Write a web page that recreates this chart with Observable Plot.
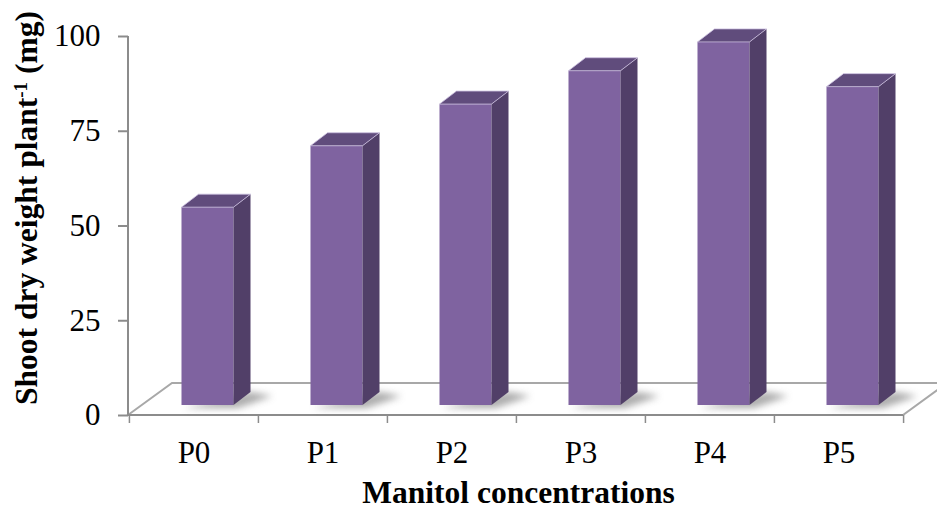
<!DOCTYPE html>
<html>
<head>
<meta charset="utf-8">
<script src="https://cdn.jsdelivr.net/npm/d3@7"></script>
<script src="https://cdn.jsdelivr.net/npm/@observablehq/plot@0.6"></script>
<style>
  html, body { margin: 0; padding: 0; background: #fff; }
  #chart svg { display: block; }
</style>
</head>
<body>
<div id="chart"></div>
<script>
// ---- data ----
const categories = ["P0", "P1", "P2", "P3", "P4", "P5"];
const values = [52.2, 68.4, 79.4, 88.2, 95.8, 84.0];
const yTicks = [0, 25, 50, 75, 100];
const xTitle = "Manitol concentrations";
const yTitleMain = "Shoot dry weight plant";
const yTitleSup = "-1";
const yTitleEnd = " (mg)";

const data = categories.map((c, i) => ({ category: c, value: values[i] }));

// ---- layout / style ----
const W = 937, H = 510;
const mL = 128, mR = 34, mT = 36, mB = 95;
const step = (W - mL - mR) / categories.length;
const inset = 38.5;
const off = { x: 14, y: -10 };     // front face offset into the floor
const depth = { x: 17, y: -13 };   // bar depth
const floorD = { x: 44, y: -32 };  // floor depth
const serif = "'Liberation Serif', 'Times New Roman', Times, serif";
const cFront = "#7f63a0", cTop = "#604c7c", cSide = "#513f68";
const axisGray = "#8c8c8c", floorGray = "#a8a8a8";

const plot = Plot.plot({
  width: W, height: H,
  marginLeft: mL, marginRight: mR, marginTop: mT, marginBottom: mB,
  style: { fontFamily: serif, fontSize: "31px", color: "#000", background: "#fff", overflow: "visible" },
  x: { domain: categories, padding: 0, label: null },
  y: { domain: [0, 100], label: null },
  marks: [
    Plot.axisY({ ticks: yTicks, tickSize: 10, tickPadding: 18, stroke: axisGray, strokeWidth: 2, fill: "#000", label: null }),
    Plot.axisX({ tickSize: 0, tickPadding: 25, fill: "#000", label: null }),
    Plot.axisX({ tickSize: 8, tickFormat: () => "", dx: -step / 2, stroke: axisGray, strokeWidth: 1.5, label: null }),
    Plot.axisX({ ticks: [categories[categories.length - 1]], tickSize: 8, tickFormat: () => "", dx: step / 2, stroke: axisGray, strokeWidth: 1.5, label: null }),
    Plot.barY(data, { x: "category", y: "value", fill: cFront, insetLeft: inset, insetRight: inset, dx: off.x, dy: off.y })
  ]
});
document.getElementById("chart").appendChild(plot);

// ---- 3D decoration derived from the plot's scales ----
const sx = plot.scale("x"), sy = plot.scale("y");
const bw = sx.bandwidth;
const svg = d3.select(plot);
const y0 = sy.apply(0), yTop = sy.apply(100);
const xL = sx.range[0], xR = sx.range[1];

const defs = svg.insert("defs", ":first-child");
defs.append("filter").attr("id", "shblur").attr("x", "-50%").attr("y", "-50%").attr("width", "200%").attr("height", "200%")
  .append("feGaussianBlur").attr("stdDeviation", 3.5);

// Floor (inserted beneath everything)
const under = svg.insert("g", "g");
under.append("path")
  .attr("d", `M${xL},${y0}L${xL + floorD.x},${y0 + floorD.y}L${xR + floorD.x},${y0 + floorD.y}L${xR},${y0}Z`)
  .attr("fill", "#fff").attr("stroke", floorGray).attr("stroke-width", 2);
// axis lines
under.append("line").attr("x1", xL).attr("x2", xR).attr("y1", y0).attr("y2", y0).attr("stroke", axisGray).attr("stroke-width", 2);
under.append("line").attr("x1", xL).attr("x2", xL).attr("y1", yTop).attr("y2", y0).attr("stroke", axisGray).attr("stroke-width", 2);

// shadows
data.forEach(d => {
  const left = sx.apply(d.category) + inset + off.x;
  const right = left + bw - 2 * inset;
  const base = y0 + off.y;
  under.append("path")
    .attr("d", `M${left + 2},${base + 3}L${right + 4},${base + 3}L${right + depth.x + 22},${base + depth.y + 4}L${right + depth.x},${base + depth.y}Z`)
    .attr("fill", "#5a5a5a").attr("opacity", 0.5).attr("filter", "url(#shblur)");
});

// side and top faces
const faces = svg.append("g");
data.forEach(d => {
  const left = sx.apply(d.category) + inset + off.x;
  const right = left + bw - 2 * inset;
  const base = y0 + off.y;
  const top = sy.apply(d.value) + off.y;
  faces.append("path")
    .attr("d", `M${right},${base}L${right},${top}L${right + depth.x},${top + depth.y}L${right + depth.x},${base + depth.y}Z`)
    .attr("fill", cSide);
  faces.append("path")
    .attr("d", `M${left},${top}L${left + depth.x},${top + depth.y}L${right + depth.x},${top + depth.y}L${right},${top}Z`)
    .attr("fill", cTop).attr("stroke", "#cbbfe0").attr("stroke-width", 0.8).attr("stroke-linejoin", "round");
});

// titles
const titles = svg.append("g").attr("font-family", serif).attr("font-weight", "bold").attr("fill", "#000");
titles.append("text")
  .attr("x", (xL + xR) / 2 + 3).attr("y", 503).attr("text-anchor", "middle").attr("font-size", 31.5)
  .text(xTitle);
const yt = titles.append("text")
  .attr("transform", `translate(37,208) rotate(-90)`)
  .attr("text-anchor", "middle").attr("font-size", 31.5);
yt.append("tspan").text(yTitleMain);
yt.append("tspan").attr("baseline-shift", "super").attr("font-size", 19).text(yTitleSup);
yt.append("tspan").text(yTitleEnd);
</script>
</body>
</html>
